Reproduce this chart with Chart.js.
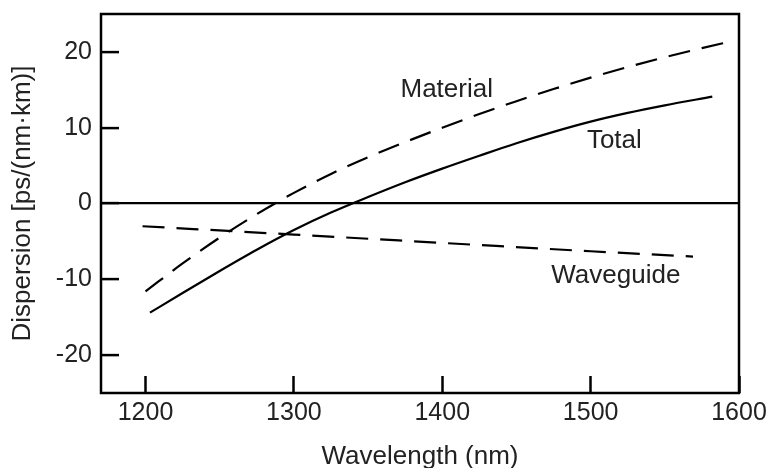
<!DOCTYPE html>
<html>
<head>
<meta charset="utf-8">
<script src="https://cdn.jsdelivr.net/npm/chart.js@4.4.1/dist/chart.umd.min.js"></script>
<style>
  body { margin: 0; background: #fff; }
</style>
</head>
<body>
<canvas id="myChart" width="771" height="468"></canvas>
<script>
// Curves (wavelength in nm, dispersion in ps/(nm·km))
const totalWl = [1203, 1225, 1250, 1275, 1300, 1325, 1350, 1375, 1400, 1425, 1450, 1475, 1500, 1525, 1550, 1582];
const totalD = [-14.4, -11.8, -8.9, -6.1, -3.5, -1.2, 0.85, 2.8, 4.6, 6.3, 7.95, 9.45, 10.8, 11.95, 12.95, 14.1];
const materialWl = [1200, 1225, 1250, 1275, 1300, 1325, 1350, 1375, 1400, 1425, 1450, 1475, 1500, 1525, 1550, 1575, 1595];
const materialD = [-11.6, -7.9, -4.5, -1.4, 1.4, 3.9, 6.1, 8.1, 10.0, 11.8, 13.5, 15.1, 16.6, 18.0, 19.3, 20.5, 21.4];
const waveguideWl = [1198, 1300, 1400, 1500, 1569];
const waveguideD = [-3.0, -4.1, -5.2, -6.3, -7.0];

// Tick labels
const xTicks = [1200, 1300, 1400, 1500, 1600];
const yTicks = [-20, -10, 0, 10, 20];

// Curve names written next to the lines
const labelText = ['Material', 'Total', 'Waveguide'];
const labelWl = [1403, 1516, 1517];
const labelD = [15.0, 8.3, -9.5];

const FONT = '"Liberation Sans", Arial, sans-serif';
const toPoints = (xs, ys) => xs.map((x, i) => ({ x: x, y: ys[i] }));

// Box around the plot area
const framePlugin = {
    id: 'frame',
    afterDraw(chart) {
        const { ctx, chartArea: a } = chart;
        ctx.save();
        ctx.strokeStyle = '#000';
        ctx.lineWidth = 2.5;
        ctx.strokeRect(a.left, a.top, a.right - a.left, a.bottom - a.top);
        ctx.restore();
    }
};

// Curve labels, placed through the scales
const labelPlugin = {
    id: 'curveLabels',
    afterDatasetsDraw(chart) {
        const { ctx, scales: { x, y } } = chart;
        ctx.save();
        ctx.font = '26px ' + FONT;
        ctx.fillStyle = '#222';
        ctx.textAlign = 'center';
        ctx.textBaseline = 'middle';
        labelText.forEach((t, i) => {
            ctx.fillText(t, x.getPixelForValue(labelWl[i]), y.getPixelForValue(labelD[i]));
        });
        ctx.restore();
    }
};

let ctx = document.getElementById('myChart');
let chart = new Chart(ctx, {
    type: 'line',
    data: {
        datasets: [
            { label: 'Material', data: toPoints(materialWl, materialD), borderDash: [22, 12] },
            { label: 'Total', data: toPoints(totalWl, totalD) },
            { label: 'Waveguide', data: toPoints(waveguideWl, waveguideD), borderDash: [22, 12] }
        ]
    },
    options: {
        responsive: false,
        animation: false,
        devicePixelRatio: 1,
        layout: { padding: { top: 14, right: 32, left: 0, bottom: 0 } },
        plugins: { legend: { display: false }, tooltip: { enabled: false } },
        elements: {
            point: { radius: 0 },
            line: { borderColor: '#000', borderWidth: 2.2, cubicInterpolationMode: 'monotone', fill: false }
        },
        scales: {
            x: {
                type: 'linear',
                min: 1170,
                max: 1600,
                afterBuildTicks: s => { s.ticks = xTicks.map(v => ({ value: v })); },
                afterFit: s => { s.height = 75; s.paddingLeft = 0; s.paddingRight = 0; },
                ticks: {
                    maxRotation: 0,
                    padding: 22,
                    color: '#222',
                    font: { family: FONT, size: 25 },
                    callback: v => String(v)
                },
                grid: { drawOnChartArea: false, tickLength: -17, tickColor: '#000', tickWidth: 2.5 },
                border: { display: false },
                title: {
                    display: true,
                    text: 'Wavelength (nm)',
                    color: '#222',
                    font: { family: FONT, size: 26, lineHeight: 0.85 },
                    padding: { top: 0, bottom: 0 }
                }
            },
            y: {
                min: -25,
                max: 25,
                afterBuildTicks: s => { s.ticks = yTicks.map(v => ({ value: v })); },
                afterFit: s => { s.width = 101; s.paddingTop = 0; s.paddingBottom = 0; },
                ticks: {
                    padding: 27,
                    color: '#222',
                    font: { family: FONT, size: 25 },
                    callback: v => String(v)
                },
                grid: {
                    color: c => (c.tick && c.tick.value === 0 ? '#000' : 'rgba(0,0,0,0)'),
                    lineWidth: 2.2,
                    tickLength: -18,
                    tickColor: '#000',
                    tickWidth: 2.5
                },
                border: { display: false },
                title: {
                    display: true,
                    text: 'Dispersion [ps/(nm·km)]',
                    color: '#222',
                    font: { family: FONT, size: 26, lineHeight: 0.85 },
                    padding: { top: 12, bottom: 0 }
                }
            }
        }
    },
    plugins: [framePlugin, labelPlugin]
});
</script>
</body>
</html>
